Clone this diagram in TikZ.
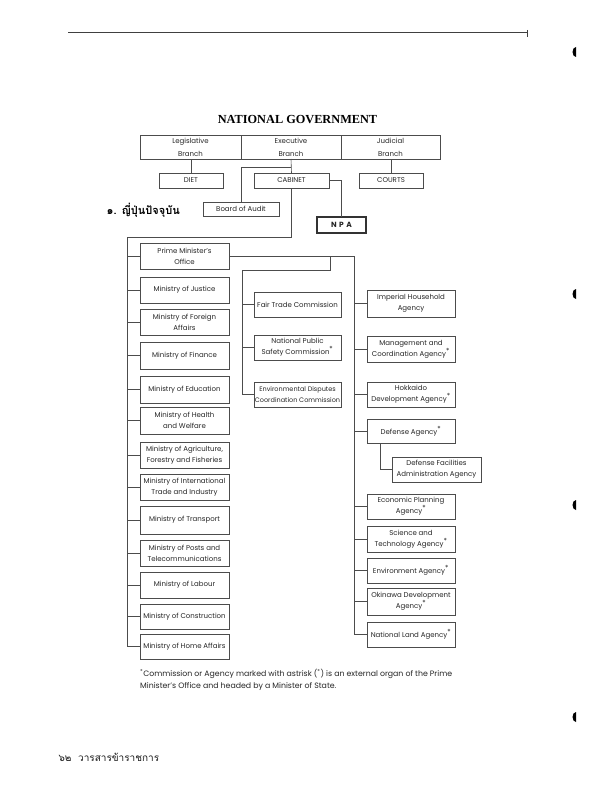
\documentclass[tikz,border=0pt]{standalone}
\usepackage{fontspec}
\setmainfont{Poppins}
\newfontfamily\titlefont{Liberation Serif}
\newfontfamily\thaifont[Script=Thai]{Loma}
\newcommand\mybox[7][]{\node[box,#1,minimum width=#5,minimum height=#6] (#2) at (#3,#4) {#7};}
\newcommand\myast{\textsuperscript{\fontsize{7}{7}\selectfont *}}
\begin{document}
\begin{tikzpicture}[x=1pt,y=-1pt,
  box/.style={draw=black!70,line width=0.6pt,align=center,inner sep=0.5pt,outer sep=0pt,
    font=\fontsize{7}{11}\selectfont,text=black!85},
  conn/.style={draw=black!70,line width=0.6pt},
  hole/.style={fill=black}]
\useasboundingbox (0,0) rectangle (612,792);
\fill[white] (0,0) rectangle (612,792);
% top rule
\draw[black!75,line width=1pt] (68,33) coordinate (r1) -- (527,33) coordinate (r2);
\draw[black!75,line width=0.8pt] (527,30) -- (527,37);
% punch marks
\foreach \yy in {62,304,515,727} \fill[hole] (576,\yy-5) arc (90:270:3.5 and 5) -- cycle;
% title
\node[font=\titlefont\bfseries\fontsize{12.3}{14}\selectfont] (title) at (297.5,120) {NATIONAL GOVERNMENT};
% branches
\mybox{leg}{190.5}{147}{101}{24}{Legislative\\[2pt]Branch}
\mybox{exe}{291}{147}{100}{24}{Executive\\[2pt]Branch}
\mybox{jud}{390.5}{147}{99}{24}{Judicial\\[2pt]Branch}
\mybox{diet}{191}{180.5}{64}{15}{DIET}
\mybox{cab}{291.5}{180.5}{75}{15}{CABINET}
\mybox{courts}{391}{180.5}{64}{15}{COURTS}
\mybox{audit}{241}{209}{76}{14}{Board of Audit}
\mybox[line width=1.8pt,draw=black!80,font=\fontsize{7.5}{8}\selectfont\bfseries]{npa}{341.5}{225}{49}{16}{N\,\,P\,\,A}
\node[font=\thaifont\bfseries\fontsize{11}{13}\selectfont,anchor=base west] (thai) at (103,214) {๑. ญี่ปุ่นปัจจุบัน};
% top connectors
\draw[conn] (leg.south -| diet.north) -- (diet.north);
\draw[conn] (exe.south) -- (cab.north);
\draw[conn] (jud.south -| courts.north) -- (courts.north);
\coordinate (j1) at (291,167);
\draw[conn] (j1) -| (audit.north);
\draw[conn] (cab.east) -| (npa.north);
% ministries
\mybox{pm}{184.5}{256}{89}{26}{Prime Minister's\\Office}
\mybox{just}{184.5}{290}{89}{26}{Ministry of Justice}
\mybox{fore}{184.5}{322}{89}{26}{Ministry of Foreign\\Affairs}
\mybox{fin}{184.5}{355.5}{89}{27}{Ministry of Finance}
\mybox{edu}{184.5}{389.5}{89}{27}{Ministry of Education}
\mybox{hea}{184.5}{420.5}{89}{27}{Ministry of Health\\and Welfare}
\mybox{agr}{184.5}{455}{89}{26}{Ministry of Agriculture,\\Forestry and Fisheries}
\mybox{tra}{184.5}{487}{89}{26}{Ministry of International\\Trade and Industry}
\mybox{trn}{184.5}{520}{89}{28}{Ministry of Transport}
\mybox{pos}{184.5}{553}{89}{26}{Ministry of Posts and\\Telecommunications}
\mybox{lab}{184.5}{585}{89}{26}{Ministry of Labour}
\mybox{con}{184.5}{616.5}{89}{25}{Ministry of Construction}
\mybox{hom}{184.5}{646.5}{89}{25}{Ministry of Home Affairs}
\coordinate (ls) at (127,237);
\draw[conn] (cab.south) |- (ls) |- (hom.west);
\foreach \m in {pm,just,fore,fin,edu,hea,agr,tra,trn,pos,lab,con}
  \draw[conn] (ls |- \m.west) -- (\m.west);
% middle column
\mybox{ftc}{297.5}{304.5}{87}{25}{Fair Trade Commission}
\mybox{nps}{297.5}{347.5}{87}{25}{National Public\\Safety Commission\myast}
\mybox[font=\fontsize{6.5}{11}\selectfont]{env}{297.5}{394.5}{87}{25}{Environmental Disputes\\Coordination Commission}
% right column
\mybox{imp}{411}{303.5}{88}{27}{Imperial Household\\Agency}
\mybox{man}{411}{349}{88}{26}{Management and\\Coordination Agency\myast}
\mybox{hok}{411}{394.5}{88}{25}{Hokkaido\\Development Agency\myast}
\mybox{def}{411}{431}{88}{24}{Defense Agency\myast}
\mybox{dfa}{436.5}{469.5}{89}{25}{Defense Facilities\\Administration Agency}
\mybox{eco}{411}{506.5}{88}{25}{Economic Planning\\Agency\myast}
\mybox{sci}{411}{539}{88}{26}{Science and\\Technology Agency\myast}
\mybox{evg}{411}{570.5}{88}{25}{Environment Agency\myast}
\mybox{oki}{411}{601.5}{88}{27}{Okinawa Development\\Agency\myast}
\mybox{nla}{411}{634.5}{88}{25}{National Land Agency\myast}
\coordinate (rs) at (354,256);
\coordinate (mj) at (330,256);
\coordinate (ms) at (242,270);
\draw[conn] (pm.east) -- (rs) |- (nla.west);
\foreach \m in {imp,man,hok,def,eco,sci,evg,oki}
  \draw[conn] (rs |- \m.west) -- (\m.west);
\draw[conn] (mj) |- (ms) |- (env.west);
\foreach \m in {ftc,nps}
  \draw[conn] (ms |- \m.west) -- (\m.west);
\coordinate (dj) at (380,443);
\draw[conn] (dj) |- (dfa.west);
% footnote
\node[anchor=north west,align=left,inner sep=0pt,text=black!85,font=\fontsize{7.8}{12}\selectfont] (foot) at (140,669)
  {\textsuperscript{*}Commission or Agency marked with astrisk (\textsuperscript{*}) is an external organ of the Prime\\Minister's Office and headed by a Minister of State.};
% page footer
\node[anchor=base west,font=\thaifont\fontsize{10}{12}\selectfont,text=black!90] (pg) at (55,761) {๖๒\ \ วารสารข้าราชการ};
\end{tikzpicture}
\end{document}
